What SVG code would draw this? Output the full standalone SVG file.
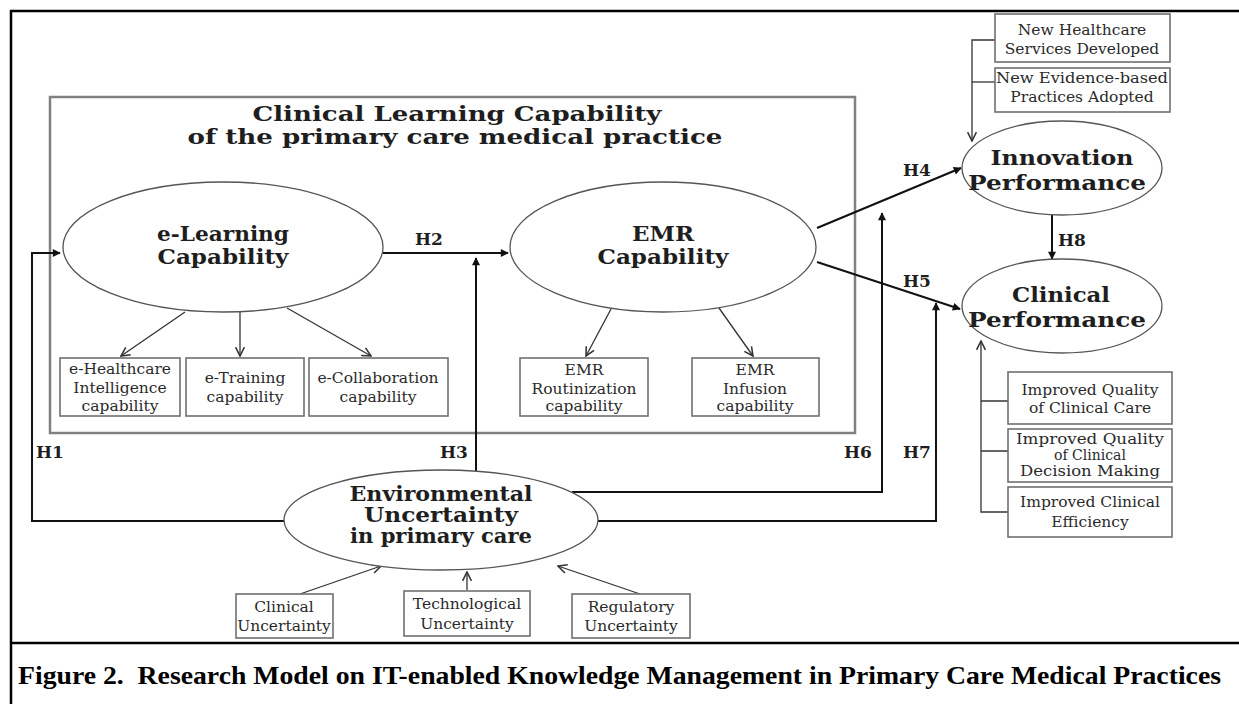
<svg xmlns="http://www.w3.org/2000/svg" width="1239" height="704" viewBox="0 0 1239 704">
<style>
.n{fill:#fff;stroke:#555;stroke-width:1.3}
.b{fill:#fff;stroke:#707070;stroke-width:1.6}
.t,.big,.sm,.h{font-family:"DejaVu Serif","Liberation Serif",serif;fill:#1e1e1e}
.big{font-size:21px;font-weight:bold;text-anchor:middle}
.sm{font-size:15.5px;text-anchor:middle;fill:#2a2a2a}
.xs{font-size:14px}
.h{font-size:17px;font-weight:bold}
.cap{font-family:"Liberation Serif","Times New Roman",serif;font-size:26px;font-weight:bold;fill:#000}
.c{stroke:#111;stroke-width:2;fill:none}
.m{stroke:#333;stroke-width:1.3;fill:none}
.f{stroke:#000;stroke-width:2.5;fill:none}
</style>
<defs>
<marker id="ah" viewBox="0 0 10 10" refX="9" refY="5" markerWidth="10" markerHeight="8" markerUnits="userSpaceOnUse" orient="auto"><path d="M0,0 L10,5 L0,10 z" fill="#111"/></marker>
<marker id="av" viewBox="0 0 10 10" refX="9" refY="5" markerWidth="11" markerHeight="11" markerUnits="userSpaceOnUse" orient="auto"><path d="M1,1 L9,5 L1,9" fill="none" stroke="#333" stroke-width="1.4"/></marker>
</defs>
<rect width="1239" height="704" fill="#fff"/>
<g id="frame">
<path class="f" d="M11,704 V11 H1239"/>
<path class="f" d="M11,643 H1239"/>
</g>
<g id="clinical-learning-capability">
<rect x="50" y="97" width="805" height="336" fill="none" stroke="#808080" stroke-width="2.5"/>
<text class="big" x="457" y="121" font-size="24" textLength="409" lengthAdjust="spacingAndGlyphs">Clinical Learning Capability</text>
<text class="big" x="455" y="144" font-size="24" textLength="535" lengthAdjust="spacingAndGlyphs">of the primary care medical practice</text>
</g>
<g id="connectors">
<path class="c" d="M285,521 H32 V253 H60" marker-end="url(#ah)"/>
<path class="c" d="M383,253 H508" marker-end="url(#ah)"/>
<path class="c" d="M476,471 V258" marker-end="url(#ah)"/>
<path class="c" d="M817,228 L961,168" marker-end="url(#ah)"/>
<path class="c" d="M817,262 L960,309" marker-end="url(#ah)"/>
<path class="c" d="M572,492 H882 V213" marker-end="url(#ah)"/>
<path class="c" d="M598,521 H936 V303" marker-end="url(#ah)"/>
<path class="c" d="M1052,215 V259" marker-end="url(#ah)"/>
<path class="m" d="M995,40 H972 V141" marker-end="url(#av)"/>
<path class="m" d="M995,82 H972"/>
<path class="m" d="M1008,512 H981 V341" marker-end="url(#av)"/>
<path class="m" d="M1008,401 H981 M1008,451 H981"/>
<path class="m" d="M185,312 L121,356" marker-end="url(#av)"/>
<path class="m" d="M240,312 V356" marker-end="url(#av)"/>
<path class="m" d="M287,308 L371,356" marker-end="url(#av)"/>
<path class="m" d="M611,309 L586,356" marker-end="url(#av)"/>
<path class="m" d="M719,308 L753,356" marker-end="url(#av)"/>
<path class="m" d="M300,594 L381,566" marker-end="url(#av)"/>
<path class="m" d="M467,590 V572" marker-end="url(#av)"/>
<path class="m" d="M640,594 L558,566" marker-end="url(#av)"/>
<text class="h" x="36" y="458">H1</text>
<text class="h" x="415" y="245">H2</text>
<text class="h" x="440" y="458">H3</text>
<text class="h" x="903" y="176">H4</text>
<text class="h" x="903" y="287">H5</text>
<text class="h" x="844" y="458">H6</text>
<text class="h" x="903" y="458">H7</text>
<text class="h" x="1058" y="246">H8</text>
</g>
<g id="e-learning">
<ellipse class="n" cx="223" cy="247" rx="160" ry="65"/>
<text class="big" x="223" y="241" textLength="132" lengthAdjust="spacingAndGlyphs">e-Learning</text>
<text class="big" x="223" y="264" textLength="131" lengthAdjust="spacingAndGlyphs">Capability</text>
</g>
<g id="emr">
<ellipse class="n" cx="663" cy="247" rx="153" ry="65"/>
<text class="big" x="663" y="241" textLength="62" lengthAdjust="spacingAndGlyphs">EMR</text>
<text class="big" x="663" y="264" textLength="131" lengthAdjust="spacingAndGlyphs">Capability</text>
</g>
<g id="innovation">
<ellipse class="n" cx="1062" cy="168" rx="100" ry="47"/>
<text class="big" x="1062" y="165" font-size="22" textLength="143" lengthAdjust="spacingAndGlyphs">Innovation</text>
<text class="big" x="1057" y="190" font-size="22" textLength="178" lengthAdjust="spacingAndGlyphs">Performance</text>
</g>
<g id="clinical-performance">
<ellipse class="n" cx="1062" cy="306" rx="100" ry="47"/>
<text class="big" x="1061" y="302" font-size="22" textLength="98" lengthAdjust="spacingAndGlyphs">Clinical</text>
<text class="big" x="1057" y="327" font-size="22" textLength="178" lengthAdjust="spacingAndGlyphs">Performance</text>
</g>
<g id="environment">
<ellipse class="n" cx="441" cy="520" rx="157" ry="50"/>
<text class="big" x="441" y="501" font-size="18" textLength="183" lengthAdjust="spacingAndGlyphs">Environmental</text>
<text class="big" x="441" y="522" font-size="18" textLength="154" lengthAdjust="spacingAndGlyphs">Uncertainty</text>
<text class="big" x="441" y="543" font-size="18" textLength="182" lengthAdjust="spacingAndGlyphs">in primary care</text>
</g>
<g id="e-healthcare">
<rect class="b" x="60" y="358" width="120" height="58"/>
<text class="sm" x="120" y="374">e-Healthcare</text>
<text class="sm" x="120" y="393">Intelligence</text>
<text class="sm" x="120" y="411">capability</text>
</g>
<g id="e-training">
<rect class="b" x="186" y="358" width="118" height="58"/>
<text class="sm" x="245" y="383">e-Training</text>
<text class="sm" x="245" y="402">capability</text>
</g>
<g id="e-collaboration">
<rect class="b" x="309" y="358" width="139" height="58"/>
<text class="sm" x="378" y="383">e-Collaboration</text>
<text class="sm" x="378" y="402">capability</text>
</g>
<g id="emr-routinization">
<rect class="b" x="520" y="358" width="128" height="58"/>
<text class="sm" x="584" y="375">EMR</text>
<text class="sm" x="584" y="394">Routinization</text>
<text class="sm" x="584" y="411">capability</text>
</g>
<g id="emr-infusion">
<rect class="b" x="692" y="358" width="127" height="58"/>
<text class="sm" x="755" y="375">EMR</text>
<text class="sm" x="755" y="394">Infusion</text>
<text class="sm" x="755" y="411">capability</text>
</g>
<g id="new-services">
<rect class="b" x="995" y="14" width="175" height="48"/>
<text class="sm" x="1082" y="35">New Healthcare</text>
<text class="sm" x="1082" y="54">Services Developed</text>
</g>
<g id="new-practices">
<rect class="b" x="995" y="68" width="175" height="44"/>
<text class="sm" x="1082" y="83" textLength="172" lengthAdjust="spacingAndGlyphs">New Evidence-based</text>
<text class="sm" x="1082" y="102">Practices Adopted</text>
</g>
<g id="quality-care">
<rect class="b" x="1008" y="372" width="164" height="52"/>
<text class="sm" x="1090" y="395">Improved Quality</text>
<text class="sm" x="1090" y="413">of Clinical Care</text>
</g>
<g id="quality-decision">
<rect class="b" x="1008" y="429" width="164" height="53"/>
<text class="sm xs" x="1090" y="444" textLength="148" lengthAdjust="spacingAndGlyphs">Improved Quality</text>
<text class="sm xs" x="1090" y="460">of Clinical</text>
<text class="sm xs" x="1090" y="476" textLength="140" lengthAdjust="spacingAndGlyphs">Decision Making</text>
</g>
<g id="efficiency">
<rect class="b" x="1008" y="487" width="164" height="50"/>
<text class="sm" x="1090" y="507">Improved Clinical</text>
<text class="sm" x="1090" y="527">Efficiency</text>
</g>
<g id="clinical-uncertainty">
<rect class="b" x="236" y="594" width="97" height="44"/>
<text class="sm" x="284" y="612">Clinical</text>
<text class="sm" x="284" y="631">Uncertainty</text>
</g>
<g id="technological-uncertainty">
<rect class="b" x="404" y="591" width="126" height="45"/>
<text class="sm" x="467" y="609">Technological</text>
<text class="sm" x="467" y="629">Uncertainty</text>
</g>
<g id="regulatory-uncertainty">
<rect class="b" x="572" y="594" width="118" height="44"/>
<text class="sm" x="631" y="612">Regulatory</text>
<text class="sm" x="631" y="631">Uncertainty</text>
</g>
<text class="cap" x="18" y="684" textLength="1203" lengthAdjust="spacingAndGlyphs" xml:space="preserve">Figure 2.  Research Model on IT-enabled Knowledge Management in Primary Care Medical Practices</text>
</svg>
